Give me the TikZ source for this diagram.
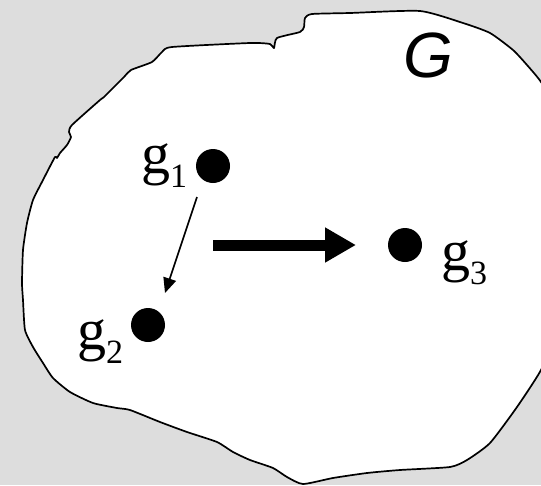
\documentclass[tikz,border=0pt]{standalone}
\usepackage{fontspec}
\setmainfont{Liberation Serif}
\newfontfamily\sansG{Liberation Sans}
\usetikzlibrary{arrows.meta}
\definecolor{bg}{RGB}{221,221,221}
\tikzset{
  dotnode/.style={circle,fill=black,inner sep=0pt,minimum size=34pt},
  lab/.style={inner sep=0pt,anchor=base west,font=\fontsize{58}{58}\selectfont},
  thinarrow/.style={line width=1.7pt,-{Triangle[length=15pt,width=13pt]}},
  thickarrow/.style={line width=11pt,-{Triangle[length=31pt,width=33pt]}},
  blob/.style={draw=black,fill=white,line width=1.7pt,line join=round}
}
\newcommand{\sbs}[1]{\raisebox{-14pt}{\fontsize{34}{34}\selectfont #1}}
\begin{document}
\begin{tikzpicture}[x=1pt,y=-1pt]
\fill[bg] (0,0) rectangle (541,485);
\useasboundingbox (0,0) rectangle (541,485);
\clip (0,0) rectangle (541,485);
\draw[blob] plot[smooth cycle,tension=0.35] coordinates {
 (172,47) (250,43) (270,44) (274,48) (277,38) (300,32) (304,27) (305,18)
 (312,14) (350,13) (420,11) (463,23) (490,33) (513,50) (527,65) (541,82)
 (556,110) (566,220) (558,330) (541,370) (517,407) (490,443) (467,460)
 (450,467) (400,470) (367,473) (333,478) (303,484) (287,477) (273,468)
 (250,460) (233,452) (217,442) (187,432) (160,422) (130,410) (117,408)
 (93,403) (70,392) (53,378) (43,363) (33,347) (25,330) (23,300) (22,283)
 (23,250) (27,223) (33,200) (43,180) (55,157) (57,158) (60,153) (67,145)
 (71,137) (69,132) (72,125) (100,100) (104,97) (124,77) (131,70) (152,62)
 (162,52)
};
\node[dotnode] (d1) at (213,166) {};
\node[dotnode] (d2) at (148,325) {};
\node[dotnode] (d3) at (405,245) {};
\node[lab] (l1) at (141,173) {g\sbs{1}};
\node[lab] (l2) at (77,349) {g\sbs{2}};
\node[lab] (l3) at (441,270) {g\sbs{3}};
\node[inner sep=0pt,anchor=base west,font=\sansG\itshape\fontsize{64}{64}\selectfont] (G) at (403,77) {G};
\coordinate (a1) at (197,197);
\coordinate (a2) at (165,293);
\draw[thinarrow] (a1) -- (a2);
\coordinate (b1) at (213,245);
\coordinate (b2) at (356,245);
\draw[thickarrow] (b1) -- (b2);
\end{tikzpicture}
\end{document}
